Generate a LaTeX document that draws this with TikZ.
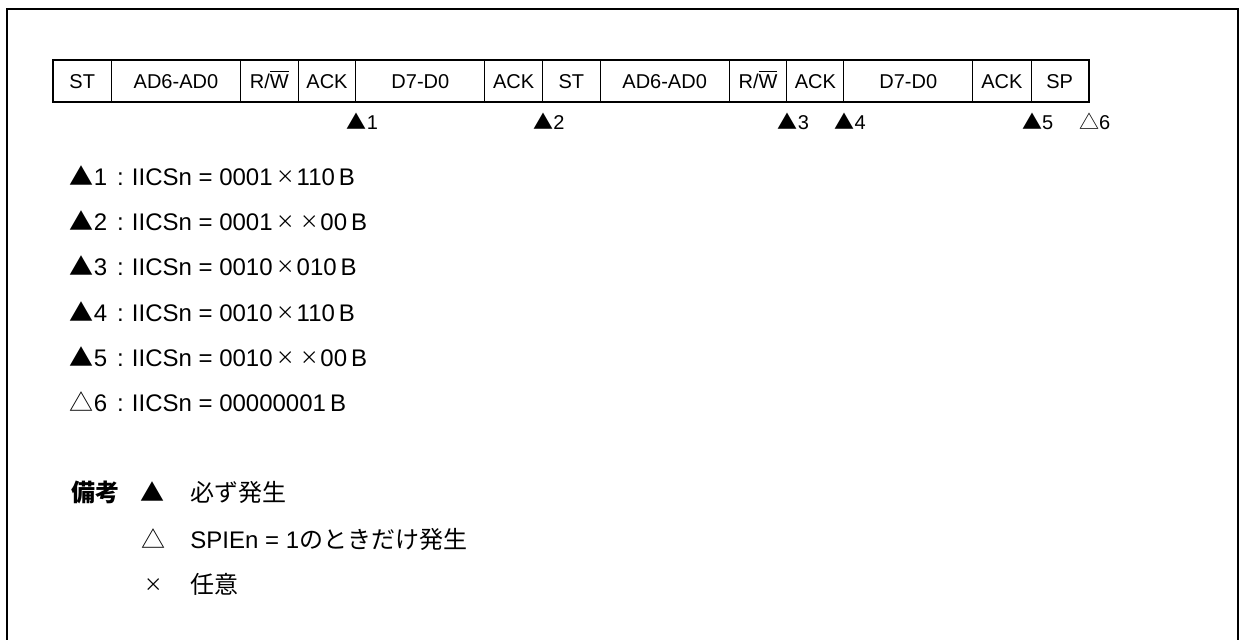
\documentclass[tikz,border=0pt]{standalone}
\usepackage{fontspec}
\setmainfont{Liberation Sans}
\newfontfamily\jp{Noto Sans CJK JP}
\newcommand\rwbar{R/\smash{$\overline{\mbox{W}}$}}
\newcommand\smx{\raisebox{0.8pt}{\jp\fontsize{9.2}{10}\selectfont ×}}
\newcommand\colsep{\hspace{5pt}:\hspace{4pt}}
\newcommand\bsuf{\hspace{2pt}B}
\begin{document}
\begin{tikzpicture}[x=0.5pt,y=-0.5pt,
  cell/.style={draw,line width=0.5pt,minimum height=20.5pt,inner sep=0pt,font=\fontsize{10}{12}\selectfont},
  evt/.style={anchor=base west,inner sep=0pt,xshift=-5pt,font=\fontsize{10}{12}\selectfont},
  leg/.style={anchor=base west,inner sep=0pt,font=\fontsize{12}{14}\selectfont},
  frame/.style={line width=1pt}]
\useasboundingbox (0,0) rectangle (1240,639);
\clip (0,0) rectangle (1240,639);
\draw[frame] (7,700) -- (7,9) -- (1238,9) -- (1238,700);
% cells
\foreach \a/\b/\t/\n in {53/111.5/ST/c1, 111.5/240.4/AD6-AD0/c2, 240.4/298.1/\rwbar/c3,
  298.1/355.9/ACK/c4, 355.9/484.8/D7-D0/c5, 484.8/542.5/ACK/c6, 542.5/600.2/ST/c7,
  600.2/729.1/AD6-AD0/c8, 729.1/786.9/\rwbar/c9, 786.9/843.8/ACK/c10,
  843.8/972.7/D7-D0/c11, 972.7/1031.2/ACK/c12, 1031.2/1088.2/SP/c13}{
  \pgfmathsetmacro\w{(\b-\a)*0.5}
  \pgfmathsetmacro\m{(\a+\b)/2}
  \node[cell,minimum width=\w pt,text height=7.2pt,text depth=0pt] (\n) at (\m,81) {\t};
}
\draw[line width=1pt] (c1.north west) rectangle (c13.south east);
% event markers
\node[evt] (e1) at ([yshift=-13.8pt]c4.south east) {{\jp ▲}1};
\node[evt] (e2) at ([yshift=-13.8pt]c6.south east) {{\jp ▲}2};
\node[evt] (e3) at ([yshift=-13.8pt]c9.south east) {{\jp ▲}3};
\node[evt] (e4) at ([yshift=-13.8pt]c10.south east) {{\jp ▲}4};
\node[evt] (e5) at ([yshift=-13.8pt]c12.south east) {{\jp ▲}5};
\node[evt] (e6) at ([yshift=-13.8pt]c13.south east) {{\jp △}6};
% legend
\node[leg] (l1) at (69.5,185) {{\jp ▲}1\colsep IICSn = 0001\hspace{2pt}\smx\hspace{0.8pt}110\bsuf};
\node[leg] (l2) at (69.5,230) {{\jp ▲}2\colsep IICSn = 0001\hspace{2pt}\smx\hspace{2.7pt}\smx\hspace{0.8pt}00\bsuf};
\node[leg] (l3) at (69.5,275.5) {{\jp ▲}3\colsep IICSn = 0010\hspace{2pt}\smx\hspace{0.8pt}010\bsuf};
\node[leg] (l4) at (69.5,321) {{\jp ▲}4\colsep IICSn = 0010\hspace{2pt}\smx\hspace{0.8pt}110\bsuf};
\node[leg] (l5) at (69.5,366.5) {{\jp ▲}5\colsep IICSn = 0010\hspace{2pt}\smx\hspace{2.7pt}\smx\hspace{0.8pt}00\bsuf};
\node[leg] (l6) at (69.5,411) {{\jp △}6\colsep IICSn = 00000001\bsuf};
% remarks
\node[leg] (r0) at (71,501.5) {\jp\bfseries 備考};
\node[leg] (r1s) at (140,501.5) {\jp ▲};
\node[leg] (r1t) at (190,501.5) {\jp 必ず発生};
\node[leg] (r2s) at (141,548) {\jp △};
\node[leg] (r2t) at (190,548) {SPIEn = 1{\jp のときだけ発生}};
\node[leg] (r3s) at (144,593) {\smx};
\node[leg] (r3t) at (190,593) {\jp 任意};
\end{tikzpicture}
\end{document}
